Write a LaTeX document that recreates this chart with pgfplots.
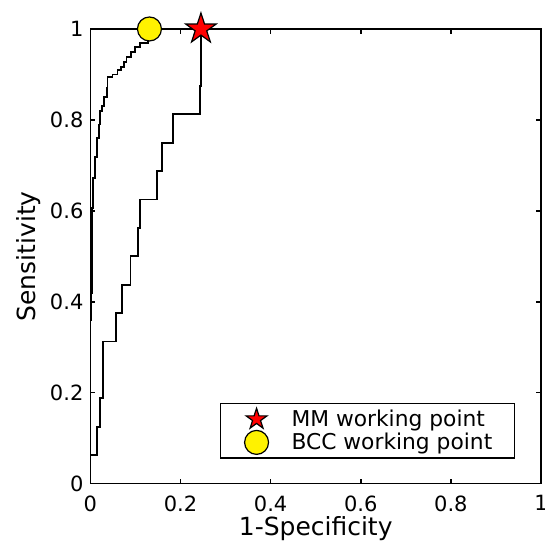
\documentclass[border=0pt]{standalone}
\usepackage{fontspec}
\setmainfont{DejaVu Sans}
\usepackage{pgfplots}
\pgfplotsset{compat=1.18}

% filled five-pointed star (MATLAB pentagram)
\pgfdeclareplotmark{pstar}{%
  \pgfpathmoveto{\pgfpointpolar{90}{\pgfplotmarksize}}%
  \pgfpathlineto{\pgfpointpolar{126}{0.382\pgfplotmarksize}}%
  \pgfpathlineto{\pgfpointpolar{162}{\pgfplotmarksize}}%
  \pgfpathlineto{\pgfpointpolar{198}{0.382\pgfplotmarksize}}%
  \pgfpathlineto{\pgfpointpolar{234}{\pgfplotmarksize}}%
  \pgfpathlineto{\pgfpointpolar{270}{0.382\pgfplotmarksize}}%
  \pgfpathlineto{\pgfpointpolar{306}{\pgfplotmarksize}}%
  \pgfpathlineto{\pgfpointpolar{342}{0.382\pgfplotmarksize}}%
  \pgfpathlineto{\pgfpointpolar{18}{\pgfplotmarksize}}%
  \pgfpathlineto{\pgfpointpolar{54}{0.382\pgfplotmarksize}}%
  \pgfpathclose
  \pgfusepathqfillstroke}

\begin{document}
\begin{tikzpicture}
\begin{axis}[name=ax, scale only axis, width=225.5pt, height=227.5pt,
  xmin=0, xmax=1, ymin=0, ymax=1, clip=false,
  xtick={0,0.2,0.4,0.6,0.8,1}, ytick={0,0.2,0.4,0.6,0.8,1},
  tick align=inside, major tick length=2.5pt,
  axis line style={line width=0.8pt},
  every tick/.style={black, line width=0.8pt},
  /pgf/number format/assume math mode=true,
  tick label style={font=\fontsize{10.5}{12}\selectfont},
  xticklabel style={yshift=-2.5pt},
  label style={font=\fontsize{12.5}{15}\selectfont},
  xlabel={1-Specificity}, ylabel={Sensitivity},
  xlabel style={at={(axis description cs:0.5,0)}, anchor=base, yshift=-26pt},
  ylabel style={yshift=-2pt},
  legend cell align=left,
  legend style={at={(0.942,0.055)}, anchor=south east, draw=black,
    line width=0.6pt, font=\fontsize{10.9}{12}\selectfont,
    nodes={inner xsep=1.5pt, inner ysep=0.9pt}, row sep=0pt},
  legend image code/.code={%
    \path[draw=none, fill=none] (0pt,-3pt) rectangle (31pt,3pt);
    \begin{pgfinterruptboundingbox}
    \draw[#1] plot coordinates {(15pt,0pt)};
    \end{pgfinterruptboundingbox}},
]
% BCC curve
\addplot[black, line width=0.9pt, forget plot] coordinates {
(0,0) (0,0.36) (0.002,0.36) (0.002,0.42) (0.0035,0.42) (0.0035,0.607)
(0.005,0.607) (0.005,0.672) (0.01,0.672) (0.01,0.718) (0.014,0.718)
(0.014,0.76) (0.019,0.76) (0.019,0.79) (0.021,0.79) (0.021,0.82)
(0.025,0.82) (0.025,0.83) (0.031,0.83) (0.031,0.85) (0.036,0.85)
(0.036,0.87) (0.038,0.87) (0.038,0.895) (0.049,0.895) (0.049,0.90)
(0.06,0.90) (0.06,0.91) (0.068,0.91) (0.068,0.917) (0.075,0.917)
(0.075,0.928) (0.08,0.928) (0.08,0.939) (0.09,0.939) (0.09,0.95)
(0.099,0.95) (0.099,0.96) (0.11,0.96) (0.11,0.97) (0.128,0.97)
(0.128,1) (1,1)};
% MM curve
\addplot[black, line width=0.9pt, forget plot] coordinates {
(0,0) (0,0.0625) (0.0144,0.0625) (0.0144,0.125) (0.022,0.125)
(0.022,0.1875) (0.0284,0.1875) (0.0284,0.3125) (0.0566,0.3125)
(0.0566,0.375) (0.0706,0.375) (0.0706,0.4375) (0.0888,0.4375)
(0.0888,0.5) (0.1048,0.5) (0.1048,0.5625) (0.1098,0.5625)
(0.1098,0.625) (0.148,0.625) (0.148,0.6875) (0.158,0.6875)
(0.158,0.75) (0.1825,0.75) (0.1825,0.8125) (0.243,0.8125)
(0.243,0.875) (0.2453,0.875) (0.2453,1) (1,1)};
% working points
\addplot[only marks, mark=pstar, mark size=8pt,
  mark options={fill=red, draw=black, line width=0.6pt}, forget plot]
  coordinates {(0.2453,1)};
\addplot[only marks, mark=*, mark size=6pt,
  mark options={fill=yellow, draw=black, line width=0.6pt}, forget plot]
  coordinates {(0.131,1)};
\addlegendimage{only marks, mark=pstar, mark size=5.5pt,
  mark options={fill=red, draw=black, line width=0.6pt}}
\addlegendentry{MM working point}
\addlegendimage{only marks, mark=*, mark size=6pt,
  mark options={fill=yellow, draw=black, line width=0.6pt}}
\addlegendentry{BCC working point\hspace{6.5pt}\mbox{}}
\end{axis}
\pgfresetboundingbox
\path[use as bounding box] ([xshift=-45.25pt,yshift=-29.5pt]ax.south west)
  rectangle ([xshift=2pt,yshift=14.5pt]ax.north east);
\end{tikzpicture}
\end{document}
